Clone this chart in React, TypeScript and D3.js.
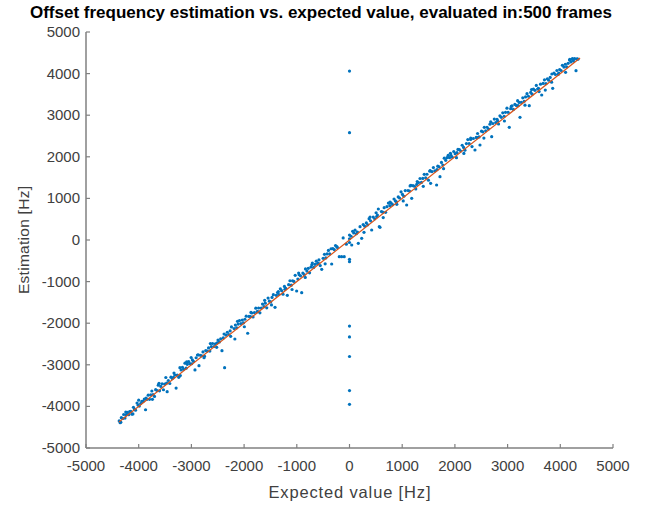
import React from "react";
import * as d3 from "d3";

const title = "Offset frequency estimation vs. expected value, evaluated in:500 frames";
const xLabel = "Expected value [Hz]";
const yLabel = "Estimation [Hz]";
const tickValues = [-5000, -4000, -3000, -2000, -1000, 0, 1000, 2000, 3000, 4000, 5000];
const fitLine = [-4375, 4375];

const expected = [
  -4370,-4352,-4330,-4301,-4285,-4260,-4238,-4215,-4190,-4172,
  -4150,-4128,-4100,-4082,-4060,-4031,-4010,-3988,-3962,-3940,
  -3915,-3893,-3870,-3848,-3820,-3795,-3772,-3750,-3728,-3700,
  -3678,-3650,-3629,-3605,-3580,-3556,-3530,-3508,-3485,-3460,
  -3438,-3410,-3388,-3362,-3340,-3315,-3290,-3268,-3240,-3218,
  -3195,-3170,-3148,-3122,-3100,-3078,-3052,-3030,-3005,-2982,
  -2960,-2932,-2910,-2885,-2856,-2830,-2805,-2780,-2752,-2728,
  -2700,-2675,-2650,-2622,-2598,-2570,-2545,-2520,-2495,-2470,
  -2445,-2420,-2395,-2370,-2345,-2318,-2292,-2265,-2240,-2175,
  -2190,-2165,-2140,-2112,-2088,-2060,-2035,-2010,-1985,-1960,
  -1932,-1908,-1880,-1855,-1830,-1805,-1778,-1752,-1725,-1700,
  -1675,-1650,-1622,-1598,-1570,-1545,-1520,-1495,-1470,-1445,
  -1413,-1390,-1365,-1340,-1312,-1288,-1262,-1235,-1210,-1180,
  -1155,-1130,-1105,-1080,-1055,-1030,-1003,-980,-955,-930,
  -907,-885,-860,-835,-808,-782,-758,-732,-705,-680,
  -655,-630,-605,-580,-555,-527,-500,-475,-450,-425,
  -400,-375,-338,-315,-290,-265,-240,-194,-150,-100,
  0,0,0,0,0,0,0,0,0,0,0,0,
  30,42,80,105,130,167,200,231,260,290,
  320,345,372,400,421,450,478,505,530,547,
  565,579,605,630,658,685,710,738,765,790,
  818,845,870,898,925,950,978,1005,1032,1058,
  1085,1110,1138,1165,1180,1205,1232,1258,1285,1310,
  1338,1365,1390,1418,1445,1470,1498,1525,1539,1565,
  1592,1620,1653,1675,1700,1717,1745,1770,1798,1825,
  1850,1872,1898,1925,1950,1978,2005,2030,2058,2085,
  2110,2138,2165,2190,2218,2245,2270,2298,2325,2350,
  2381,2405,2430,2458,2476,2505,2530,2558,2585,2610,
  2638,2665,2698,2720,2748,2775,2800,2828,2855,2880,
  2908,2935,2960,2988,3010,3032,3058,3085,3110,3138,
  3165,3190,3218,3235,3260,3288,3315,3340,3368,3395,
  3411,3438,3465,3490,3518,3545,3570,3598,3625,3647,
  3675,3700,3728,3755,3780,3808,3835,3856,3880,3908,
  3935,3960,3988,4015,4040,4068,4095,4120,4148,4175,
  4200,4225,4250,4272,4298,4310,4325,4335,4180,4240,
  -4340,-4245,-4110,-4000,-3860,-3740,-3615,-3470,-3330,-3210,
  -3090,-2995,-2870,-2760,-2640,-2510,-2380,-2255,-2125,-1995,
  -1870,-1740,-1610,-1480,-1350,-1225,-1090,-965,-840,-715,
  -590,-462,-350,-230,-120,-60,60,150,275,390,
  515,640,770,890,1020,1150,1275,1400,1530,1660,
  1785,1915,2040,2170,2300,2420,2550,2680,2810,2940,
  3070,3200,3330,3455,3585,3715,3840,3970,4100,4230,
];

const estimation = [
  -4350,-4392,-4270,-4291,-4195,-4280,-4198,-4145,-4200,-4122,
  -4120,-4188,-4020,-4062,-4090,-3921,-3970,-3993,-3930,-3880,
  -3875,-3823,-4080,-3833,-3730,-3830,-3722,-3630,-3718,-3760,
  -3598,-3620,-3489,-3625,-3520,-3456,-3600,-3463,-3305,-3645,
  -3378,-3450,-3298,-3332,-3300,-3245,-3560,-3248,-3300,-3068,
  -3125,-3060,-3108,-2962,-3080,-2988,-2922,-2970,-2825,-2882,
  -2920,-3122,-2830,-2765,-3021,-2770,-2785,-2690,-2792,-2658,
  -2670,-2595,-2670,-2562,-2488,-2560,-2495,-2580,-2405,-2450,
  -2375,-2660,-2355,-3070,-2285,-2218,-2272,-2185,-2090,-2380,
  -2130,-2045,-2110,-2022,-1938,-2010,-1925,-1990,-1905,-1830,
  -2242,-1838,-1840,-1755,-1850,-1745,-1638,-1722,-1635,-1750,
  -1635,-1540,-1602,-1518,-1630,-1395,-1470,-1485,-1380,-1315,
  -1618,-1330,-1265,-1310,-1172,-1218,-1302,-1115,-1160,-1330,
  -1075,-980,-1085,-980,-995,-850,-1226,-940,-835,-860,
  -1267,-795,-830,-695,-748,-682,-788,-652,-555,-660,
  -585,-510,-565,-480,-615,-705,-440,-345,-430,-335,
  -250,-335,-577,-205,-230,-135,-160,-401,-401,-401,
  4060,2580,-465,-520,-2070,-2330,-2800,-3620,-3950,-60,30,120,
  90,-120,170,235,150,-80,320,41,370,330,
  410,365,512,460,240,550,508,655,600,745,
  320,305,685,670,778,665,800,888,825,890,
  848,985,940,858,1035,1010,1158,1095,1052,1188,
  841,1190,1178,1315,1002,1305,1292,1228,1405,1380,
  1478,1385,1480,1578,1495,1580,1438,1655,1363,1645,
  1742,1660,1322,1775,1760,1522,1865,1800,1968,1915,
  1980,2032,1978,2035,1990,2128,2075,1980,2178,2175,
  2140,2278,2225,2160,2318,2415,2320,2418,2245,2440,
  2163,2465,2560,2478,2284,2615,2600,2708,2625,2710,
  2668,2785,2483,2800,2908,2825,2900,2788,2985,2950,
  3058,2975,3070,3168,3070,2709,3158,3225,3140,3258,
  3235,3350,3308,2949,3310,3418,3335,3440,3518,3455,
  3228,3548,3505,3630,3598,3715,3630,3568,3745,3486,
  3765,3850,3758,3875,3840,3908,3795,3647,4010,3978,
  4075,3980,4098,4075,4200,4158,4225,4160,4248,4325,
  4280,4345,4300,4362,4070,4350,4355,4345,4340,4340,
  -4380,-4135,-4180,-3850,-3800,-3830,-3445,-3440,-3200,-3260,
  -2930,-2975,-2760,-2830,-2490,-2470,-2260,-2315,-1955,-2085,
  -1740,-1720,-1450,-1560,-1240,-1185,-1190,-795,-900,-595,
  -560,-572,-210,-180,50,-100,210,190,185,550,
  565,540,910,920,940,1300,1335,1290,1670,1690,
  1715,2085,2100,2080,2450,2460,2450,2840,2860,2860,
  3210,3230,3240,3615,3645,3605,3990,4010,4030,4360,
];

const W = 664;
const H = 507;
const left = 86;
const right = 613;
const top = 32;
const bottom = 448;

export default function App() {
  const x = d3.scaleLinear().domain([-5000, 5000]).range([left, right]);
  const y = d3.scaleLinear().domain([-5000, 5000]).range([bottom, top]);
  const axisColor = "#808080";
  const textColor = "#404040";
  const font = "'Liberation Sans', Arial, Helvetica, sans-serif";
  const line = d3.line<number>().x((v) => x(v)).y((v) => y(v));

  return (
    <svg
      width={W}
      height={H}
      style={{ position: "absolute", left: 0, top: 0, background: "#fff" }}
      fontFamily={font}
    >
      <rect x={0} y={0} width={W} height={H} fill="#fff" />
      {expected.map((e, i) => (
        <circle key={i} cx={x(e)} cy={y(estimation[i])} r={1.6} fill="#0072BD" />
      ))}
      <path d={line(fitLine) || ""} stroke="#D95319" strokeWidth={1.2} fill="none" />
      <line x1={left} x2={left} y1={top} y2={bottom} stroke={axisColor} strokeWidth={1.5} />
      <line x1={left} x2={right} y1={bottom} y2={bottom} stroke={axisColor} strokeWidth={1.5} />
      {tickValues.map((t) => (
        <g key={"x" + t}>
          <line x1={x(t)} x2={x(t)} y1={bottom} y2={bottom - 4} stroke={axisColor} strokeWidth={1.2} />
          <text x={x(t)} y={bottom + 23} textAnchor="middle" fontSize={15} fill={textColor}>
            {t}
          </text>
        </g>
      ))}
      {tickValues.map((t) => (
        <g key={"y" + t}>
          <line x1={left} x2={left + 4} y1={y(t)} y2={y(t)} stroke={axisColor} strokeWidth={1.2} />
          <text x={left - 6} y={y(t) + 5} textAnchor="end" fontSize={15} fill={textColor}>
            {t}
          </text>
        </g>
      ))}
      <text
        x={(left + right) / 2}
        y={498}
        textAnchor="middle"
        fontSize={16.5}
        fill={textColor}
        textLength={162}
        lengthAdjust="spacing"
      >
        {xLabel}
      </text>
      <text
        transform={`translate(29,${(top + bottom) / 2}) rotate(-90)`}
        textAnchor="middle"
        fontSize={15.5}
        fill={textColor}
        textLength={108}
        lengthAdjust="spacing"
      >
        {yLabel}
      </text>
      <text x={321} y={18} textAnchor="middle" fontSize={17} fontWeight="bold" fill="#000">
        {title}
      </text>
    </svg>
  );
}
